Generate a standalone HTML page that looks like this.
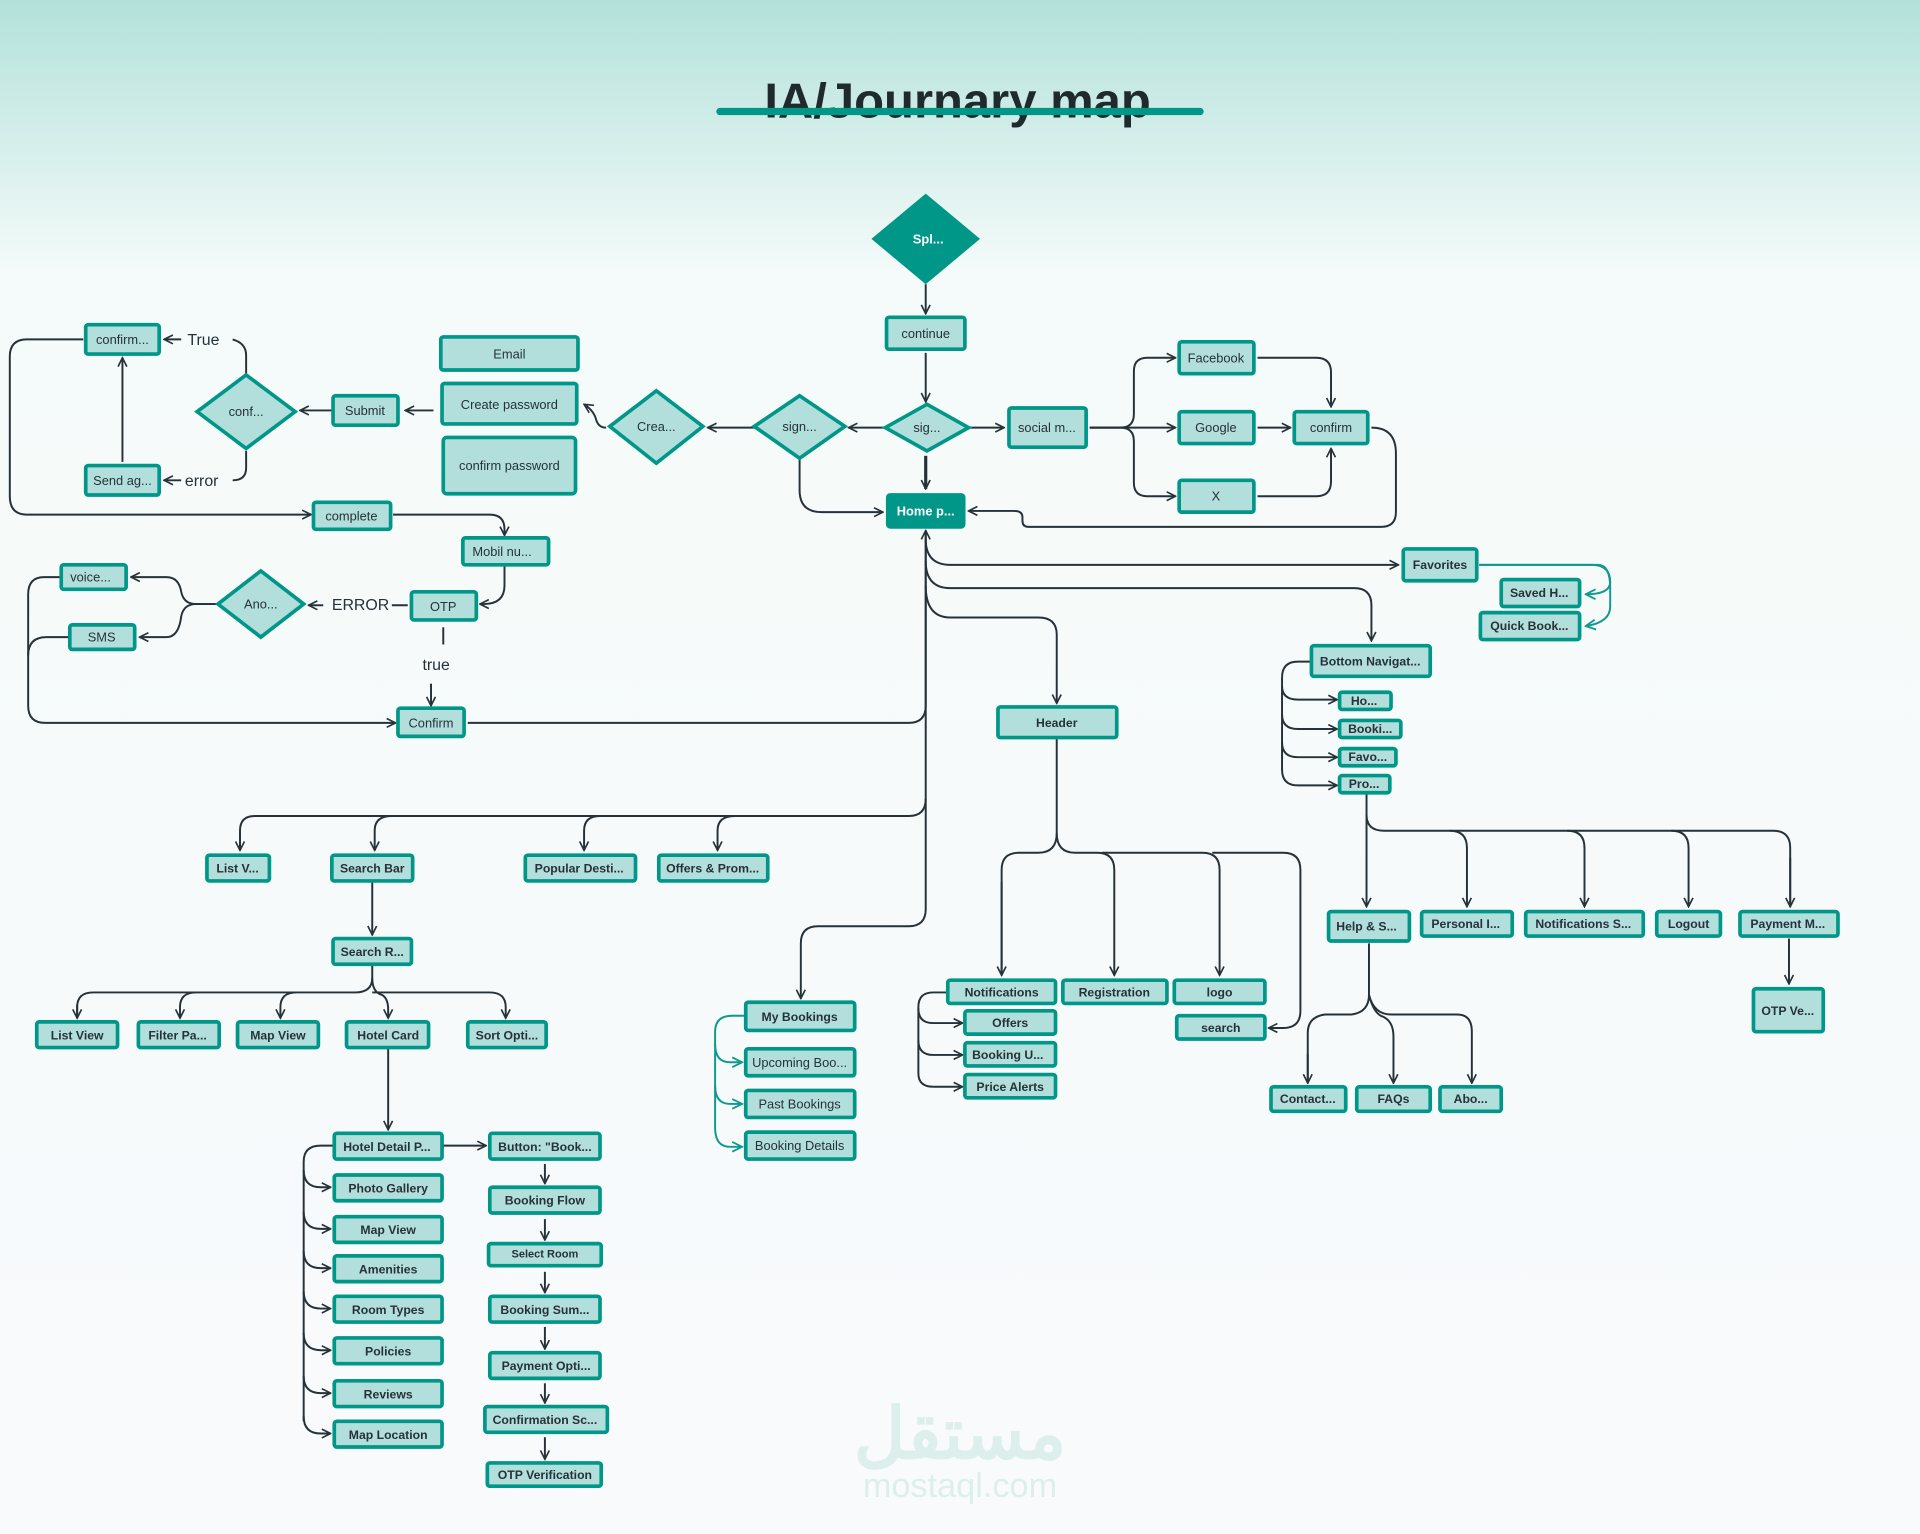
<!DOCTYPE html>
<html><head><meta charset="utf-8"><style>
html,body{margin:0;padding:0;width:1920px;height:1534px;overflow:hidden;background:#f8fafc}
svg{display:block}
text{font-family:"Liberation Sans",sans-serif;}
.b{fill:#b2dfdb;stroke:#009688;stroke-width:3}
.d{fill:#009688;stroke:#009688;stroke-width:3}
.t{font-size:10.5px;fill:#263238;text-anchor:middle;dominant-baseline:central}
.tb{font-size:10px;font-weight:bold;fill:#263238;text-anchor:middle;dominant-baseline:central}
.w{font-size:10.5px;font-weight:bold;fill:#fff;text-anchor:middle;dominant-baseline:central}
.l{fill:none;stroke:#263238;stroke-width:1.6;marker-end:url(#a)}
.n{fill:none;stroke:#263238;stroke-width:1.6}
.g{fill:none;stroke:#0f9a8c;stroke-width:1.6;marker-end:url(#ag)}
.lab{font-size:13px;fill:#263238;dominant-baseline:central}
</style></head><body>
<svg width="1920" height="1534" viewBox="0 0 1568 1252" preserveAspectRatio="none" xmlns="http://www.w3.org/2000/svg">
<defs>
<linearGradient id="bg" x1="0" y1="0" x2="0" y2="1">
<stop offset="0" stop-color="#b3e1da"/><stop offset="0.18" stop-color="#f5fbfa"/><stop offset="1" stop-color="#f8fafc"/>
</linearGradient>
<marker id="a" viewBox="0 0 10 10" refX="9" refY="5" markerWidth="9" markerHeight="9" orient="auto" markerUnits="userSpaceOnUse"><path d="M1,1 L9,5 L1,9" fill="none" stroke="#263238" stroke-width="1.5"/></marker>
<marker id="ag" viewBox="0 0 10 10" refX="9" refY="5" markerWidth="10" markerHeight="10" orient="auto" markerUnits="userSpaceOnUse"><path d="M1,1 L9,5 L1,9" fill="none" stroke="#0f9a8c" stroke-width="1.5"/></marker>
</defs>
<rect width="1568" height="1252" fill="url(#bg)"/>
<text x="782" y="96" font-size="40" font-weight="bold" fill="#1f2a2e" text-anchor="middle">IA/Journary map</text>
<rect x="585" y="88" width="398" height="6" rx="3" fill="#009688"/>

<text x="784" y="1190" font-size="58" font-weight="bold" fill="#dcefed" text-anchor="middle" font-family="'Noto Sans CJK SC','DejaVu Sans',sans-serif">مستقل</text>
<text x="784" y="1222" font-size="28" fill="#dcefed" text-anchor="middle">mostaql.com</text>

<g>
<path class="l" d="M756,232 V256"/>
<path class="l" d="M756,288 V328"/>
<path class="l" d="M756,372 V399" style="stroke-width:2.6"/>
<path class="l" d="M722,349 H693"/>
<path class="l" d="M791,349 H820"/>
<path class="l" d="M890,349 H960"/>
<path class="l" d="M890,349 H915 Q926,349 926,338 V303 Q926,292 937,292 H960"/>
<path class="l" d="M890,349 H915 Q926,349 926,360 V394 Q926,405 937,405 H960"/>
<path class="l" d="M1027,292 H1075 Q1087,292 1087,304 V332"/>
<path class="l" d="M1027,349 H1054"/>
<path class="l" d="M1027,405 H1075 Q1087,405 1087,393 V366"/>
<path class="l" d="M1120,349 Q1140,349 1140,370 V418 Q1140,430 1128,430 H840 Q835,430 835,425 V422 Q835,417 828,417 H791"/>
<path class="l" d="M616,349 H578"/>
<path class="l" d="M653,374 V400 Q653,418 671,418 H721"/>
<path class="l" d="M495,349 Q489,349 487,343 Q485,335 477,330"/>
<path class="l" d="M354,335 H331"/>
<path class="l" d="M271,335 H245"/>
<path class="n" d="M201,305 V290 Q201,280 190,277"/>
<path class="l" d="M148,277 H134"/>
<path class="n" d="M201,368 V382 Q201,392 190,392"/>
<path class="l" d="M148,392 H134"/>
<path class="l" d="M100,377 V292"/>
<path class="l" d="M68,277 H22 Q8,277 8,291 V405 Q8,420 22,420 H254"/>
<path class="l" d="M321,420 H400 Q412,420 412,432 V437"/>
<path class="l" d="M412,462 V478 Q412,493 395,493 H392"/>
<path class="n" d="M333,494 H320"/>
<path class="l" d="M264,494 H252"/>
<path class="l" d="M177,493 H160 Q150,493 148,483 Q146,471 136,471 H107"/>
<path class="l" d="M177,493 H160 Q150,493 148,503 Q146,520 136,520 H114"/>
<path class="l" d="M50,471 H36 Q23,471 23,485 V576 Q23,590 37,590 H323"/>
<path class="n" d="M57,520 H38 Q23,520 23,535"/>
<path class="n" d="M362,512 V526"/>
<path class="l" d="M352,558 V576"/>
<path class="l" d="M382,590 H742 Q756,590 756,576 V433"/>
<path class="n" d="M756,433 V652 Q756,666 742,666 H208 Q196,666 196,678 V694"/>
<path class="l" d="M196,680 V694"/>
<path class="l" d="M320,666 Q306,666 306,678 V694"/>
<path class="l" d="M490,666 Q477,666 477,678 V694"/>
<path class="l" d="M600,666 Q586,666 586,678 V694"/>
<path class="l" d="M756,652 V742 Q756,756 742,756 H668 Q654,756 654,770 V815"/>
<path class="l" d="M756,440 Q756,461 776,461 H1142"/>
<path class="l" d="M756,458 Q756,480 776,480 H1106 Q1120,480 1120,494 V523"/>
<path class="l" d="M756,478 Q756,504 776,504 H848 Q863,504 863,518 V574"/>
<path class="g" d="M1208,461 H1300 Q1315,461 1315,475 Q1315,485 1295,485"/>
<path class="g" d="M1208,461 H1305 Q1315,461 1315,480 V495 Q1315,508 1295,511"/>
<path class="n" d="M1071,540 H1060 Q1047,540 1047,553 V628 Q1047,641 1060,641"/>
<path class="l" d="M1047,560 Q1047,571 1060,571 H1092"/>
<path class="l" d="M1047,583 Q1047,595 1060,595 H1092"/>
<path class="l" d="M1047,606 Q1047,618 1060,618 H1092"/>
<path class="l" d="M1060,641 H1092"/>
<path class="n" d="M1116,648 V665 Q1116,678 1130,678 H1448 Q1462,678 1462,692 V740"/>
<path class="l" d="M1462,700 V740"/>
<path class="l" d="M1116,665 V740"/>
<path class="l" d="M1184,678 Q1198,678 1198,692 V740"/>
<path class="l" d="M1280,678 Q1294,678 1294,692 V740"/>
<path class="l" d="M1365,678 Q1379,678 1379,692 V740"/>
<path class="l" d="M1461,766 V803"/>
<path class="n" d="M1118,770 V812 Q1118,826 1104,828 H1082 Q1068,830 1068,843 V884"/>
<path class="l" d="M1068,860 V884"/>
<path class="l" d="M1118,812 Q1122,828 1130,830 Q1138,834 1138,846 V884"/>
<path class="l" d="M1118,812 Q1122,828 1136,828 H1190 Q1202,828 1202,842 V884"/>
<path class="n" d="M863,603 V680 Q863,696 848,696 H832 Q818,696 818,710 V796"/>
<path class="l" d="M818,720 V796"/>
<path class="l" d="M863,680 Q863,696 878,696 H896 Q910,696 910,710 V796"/>
<path class="l" d="M900,696 H982 Q996,696 996,710 V796"/>
<path class="l" d="M990,696 H1048 Q1062,696 1062,710 V825 Q1062,839 1048,839 H1036"/>
<path class="n" d="M774,810 H762 Q750,810 750,822 V876 Q750,887 762,887"/>
<path class="l" d="M750,823 Q750,835 762,835 H786"/>
<path class="l" d="M750,849 Q750,861 762,861 H786"/>
<path class="l" d="M762,887 H786"/>
<path class="l" d="M304,720 V763"/>
<path class="n" d="M304,788 V798 Q304,810 290,810 H76 Q63,810 63,822 V831"/>
<path class="l" d="M63,820 V831"/>
<path class="l" d="M160,810 Q147,810 147,822 V831"/>
<path class="l" d="M242,810 Q229,810 229,822 V831"/>
<path class="l" d="M304,798 Q304,810 312,812 Q317,815 317,824 V831"/>
<path class="l" d="M304,810 H400 Q413,810 413,822 V831"/>
<path class="l" d="M317,856 V922"/>
<path class="l" d="M362,935 H397"/>
<path class="n" d="M273,935 H262 Q248,935 248,948 V1160"/>
<path class="l" d="M248,955 Q248,969 262,969 H270"/>
<path class="l" d="M248,989 Q248,1003 262,1003 H270"/>
<path class="l" d="M248,1021 Q248,1035 262,1035 H270"/>
<path class="l" d="M248,1054 Q248,1068 262,1068 H270"/>
<path class="l" d="M248,1088 Q248,1102 262,1102 H270"/>
<path class="l" d="M248,1123 Q248,1137 262,1137 H270"/>
<path class="l" d="M248,1156 Q248,1170 262,1170 H270"/>
<path class="l" d="M445,950 V966"/>
<path class="l" d="M445,995 V1012"/>
<path class="l" d="M445,1038 V1055"/>
<path class="l" d="M445,1083 V1101"/>
<path class="l" d="M445,1129 V1145"/>
<path class="l" d="M445,1173 V1191"/>
<path class="g" d="M609,829 H598 Q584,829 584,842 V920 Q584,936 596,936 H606"/>
<path class="g" d="M584,852 Q584,867 596,867 H606"/>
<path class="g" d="M584,886 Q584,901 596,901 H606"/>
</g>

<text class="lab" x="153" y="278">True</text>
<text class="lab" x="151" y="393">error</text>
<text class="lab" x="271" y="494">ERROR</text>
<text class="lab" x="345" y="543">true</text>

<polygon class="d" points="756,160 798,195 756,230 714,195"/>
<text class="w" x="758" y="195">Spl...</text>
<polygon class="b" points="757,330 791,349 757,368 723,349"/>
<text class="t" x="757" y="349">sig...</text>
<polygon class="b" points="653,323 690,348 653,374 616,348"/>
<text class="t" x="653" y="348">sign...</text>
<polygon class="b" points="536,319 574,348 536,378 498,348"/>
<text class="t" x="536" y="348">Crea...</text>
<polygon class="b" points="201,306 241,336 201,366 161,336"/>
<text class="t" x="201" y="336">conf...</text>
<polygon class="b" points="213,466 248,493 213,520 178,493"/>
<text class="t" x="213" y="493">Ano...</text>

<rect class="d" x="725" y="404" width="62" height="26" rx="2"/>
<text class="w" x="756" y="417">Home p...</text>

<g>
<rect class="b" x="724" y="259" width="64" height="26" rx="2"/><text class="t" x="756" y="272">continue</text>
<rect class="b" x="824" y="333" width="63" height="32" rx="2"/><text class="t" x="855" y="349">social m...</text>
<rect class="b" x="963" y="279" width="61" height="26" rx="2"/><text class="t" x="993" y="292">Facebook</text>
<rect class="b" x="963" y="336" width="61" height="26" rx="2"/><text class="t" x="993" y="349">Google</text>
<rect class="b" x="963" y="392" width="61" height="26" rx="2"/><text class="t" x="993" y="405">X</text>
<rect class="b" x="1057" y="336" width="60" height="26" rx="2"/><text class="t" x="1087" y="349">confirm</text>
<rect class="b" x="360" y="275" width="112" height="27" rx="2"/><text class="t" x="416" y="289">Email</text>
<rect class="b" x="361" y="313" width="110" height="33" rx="2"/><text class="t" x="416" y="330">Create password</text>
<rect class="b" x="362" y="357" width="108" height="46" rx="3"/><text class="t" x="416" y="380">confirm password</text>
<rect class="b" x="272" y="323" width="53" height="24" rx="2"/><text class="t" x="298" y="335">Submit</text>
<rect class="b" x="70" y="265" width="60" height="24" rx="2"/><text class="t" x="100" y="277">confirm...</text>
<rect class="b" x="70" y="380" width="60" height="24" rx="2"/><text class="t" x="100" y="392">Send ag...</text>
<rect class="b" x="256" y="410" width="63" height="22" rx="2"/><text class="t" x="287" y="421">complete</text>
<rect class="b" x="378" y="439" width="70" height="22" rx="2"/><text class="t" x="410" y="450">Mobil nu...</text>
<rect class="b" x="336" y="483" width="53" height="23" rx="2"/><text class="t" x="362" y="495">OTP</text>
<rect class="b" x="50" y="461" width="53" height="20" rx="2"/><text class="t" x="74" y="471">voice...</text>
<rect class="b" x="57" y="510" width="53" height="20" rx="2"/><text class="t" x="83" y="520">SMS</text>
<rect class="b" x="325" y="578" width="54" height="23" rx="2"/><text class="t" x="352" y="590">Confirm</text>
<rect class="b" x="609" y="856" width="89" height="22" rx="2"/><text class="t" x="653" y="867">Upcoming Boo...</text>
<rect class="b" x="609" y="890" width="89" height="22" rx="2"/><text class="t" x="653" y="901">Past Bookings</text>
<rect class="b" x="609" y="924" width="89" height="22" rx="2"/><text class="t" x="653" y="935">Booking Details</text>
</g>

<g>
<rect class="b" x="1146" y="448" width="60" height="26" rx="2"/><text class="tb" x="1176" y="461">Favorites</text>
<rect class="b" x="1226" y="473" width="64" height="22" rx="2"/><text class="tb" x="1257" y="484">Saved H...</text>
<rect class="b" x="1209" y="500" width="81" height="22" rx="2"/><text class="tb" x="1249" y="511">Quick Book...</text>
<rect class="b" x="1071" y="527" width="97" height="25" rx="2"/><text class="tb" x="1119" y="540">Bottom Navigat...</text>
<rect class="b" x="1094" y="565" width="42" height="14" rx="2"/><text class="tb" x="1114" y="572">Ho...</text>
<rect class="b" x="1094" y="588" width="50" height="14" rx="2"/><text class="tb" x="1119" y="595">Booki...</text>
<rect class="b" x="1094" y="611" width="46" height="14" rx="2"/><text class="tb" x="1117" y="618">Favo...</text>
<rect class="b" x="1094" y="633" width="41" height="14" rx="2"/><text class="tb" x="1114" y="640">Pro...</text>
<rect class="b" x="815" y="577" width="97" height="25" rx="2"/><text class="tb" x="863" y="590">Header</text>
<rect class="b" x="169" y="698" width="51" height="21" rx="2"/><text class="tb" x="194" y="709">List V...</text>
<rect class="b" x="271" y="698" width="66" height="21" rx="2"/><text class="tb" x="304" y="709">Search Bar</text>
<rect class="b" x="429" y="698" width="90" height="21" rx="2"/><text class="tb" x="473" y="709">Popular Desti...</text>
<rect class="b" x="538" y="698" width="89" height="21" rx="2"/><text class="tb" x="582" y="709">Offers &amp; Prom...</text>
<rect class="b" x="272" y="766" width="64" height="21" rx="2"/><text class="tb" x="304" y="777">Search R...</text>
<rect class="b" x="30" y="834" width="66" height="21" rx="2"/><text class="tb" x="63" y="845">List View</text>
<rect class="b" x="113" y="834" width="66" height="21" rx="2"/><text class="tb" x="145" y="845">Filter Pa...</text>
<rect class="b" x="194" y="834" width="66" height="21" rx="2"/><text class="tb" x="227" y="845">Map View</text>
<rect class="b" x="283" y="834" width="67" height="21" rx="2"/><text class="tb" x="317" y="845">Hotel Card</text>
<rect class="b" x="382" y="834" width="64" height="21" rx="2"/><text class="tb" x="414" y="845">Sort Opti...</text>
<rect class="b" x="273" y="925" width="88" height="21" rx="2"/><text class="tb" x="316" y="936">Hotel Detail P...</text>
<rect class="b" x="273" y="959" width="88" height="21" rx="2"/><text class="tb" x="317" y="970">Photo Gallery</text>
<rect class="b" x="273" y="993" width="88" height="21" rx="2"/><text class="tb" x="317" y="1004">Map View</text>
<rect class="b" x="273" y="1025" width="88" height="21" rx="2"/><text class="tb" x="317" y="1036">Amenities</text>
<rect class="b" x="273" y="1058" width="88" height="21" rx="2"/><text class="tb" x="317" y="1069">Room Types</text>
<rect class="b" x="273" y="1092" width="88" height="21" rx="2"/><text class="tb" x="317" y="1103">Policies</text>
<rect class="b" x="273" y="1127" width="88" height="21" rx="2"/><text class="tb" x="317" y="1138">Reviews</text>
<rect class="b" x="273" y="1160" width="88" height="21" rx="2"/><text class="tb" x="317" y="1171">Map Location</text>
<rect class="b" x="400" y="925" width="90" height="21" rx="2"/><text class="tb" x="445" y="936">Button: "Book...</text>
<rect class="b" x="400" y="969" width="90" height="21" rx="2"/><text class="tb" x="445" y="980">Booking Flow</text>
<rect class="b" x="399" y="1015" width="92" height="18" rx="2"/><text class="tb" x="445" y="1024" style="font-size:9px">Select Room</text>
<rect class="b" x="400" y="1058" width="90" height="21" rx="2"/><text class="tb" x="445" y="1069">Booking Sum...</text>
<rect class="b" x="400" y="1104" width="90" height="21" rx="2"/><text class="tb" x="446" y="1115">Payment Opti...</text>
<rect class="b" x="396" y="1148" width="100" height="21" rx="2"/><text class="tb" x="445" y="1159">Confirmation Sc...</text>
<rect class="b" x="398" y="1194" width="93" height="19" rx="2"/><text class="tb" x="445" y="1204">OTP Verification</text>
<rect class="b" x="609" y="818" width="89" height="23" rx="2"/><text class="tb" x="653" y="830">My Bookings</text>
<rect class="b" x="774" y="800" width="88" height="19" rx="2"/><text class="tb" x="818" y="810">Notifications</text>
<rect class="b" x="868" y="800" width="85" height="19" rx="2"/><text class="tb" x="910" y="810">Registration</text>
<rect class="b" x="959" y="800" width="74" height="19" rx="2"/><text class="tb" x="996" y="810">logo</text>
<rect class="b" x="961" y="829" width="72" height="19" rx="2"/><text class="tb" x="997" y="839">search</text>
<rect class="b" x="788" y="825" width="74" height="19" rx="2"/><text class="tb" x="825" y="835">Offers</text>
<rect class="b" x="788" y="851" width="74" height="19" rx="2"/><text class="tb" x="823" y="861">Booking U...</text>
<rect class="b" x="788" y="877" width="74" height="19" rx="2"/><text class="tb" x="825" y="887">Price Alerts</text>
<rect class="b" x="1085" y="744" width="66" height="24" rx="2"/><text class="tb" x="1116" y="756">Help &amp; S...</text>
<rect class="b" x="1161" y="744" width="74" height="20" rx="2"/><text class="tb" x="1197" y="754">Personal I...</text>
<rect class="b" x="1246" y="744" width="96" height="20" rx="2"/><text class="tb" x="1293" y="754">Notifications S...</text>
<rect class="b" x="1353" y="744" width="52" height="20" rx="2"/><text class="tb" x="1379" y="754">Logout</text>
<rect class="b" x="1421" y="744" width="80" height="20" rx="2"/><text class="tb" x="1460" y="754">Payment M...</text>
<rect class="b" x="1432" y="807" width="57" height="35" rx="2"/><text class="tb" x="1460" y="825">OTP Ve...</text>
<rect class="b" x="1038" y="887" width="61" height="20" rx="2"/><text class="tb" x="1068" y="897">Contact...</text>
<rect class="b" x="1108" y="887" width="60" height="20" rx="2"/><text class="tb" x="1138" y="897">FAQs</text>
<rect class="b" x="1176" y="887" width="50" height="20" rx="2"/><text class="tb" x="1201" y="897">Abo...</text>
</g>
</svg>
</body></html>
